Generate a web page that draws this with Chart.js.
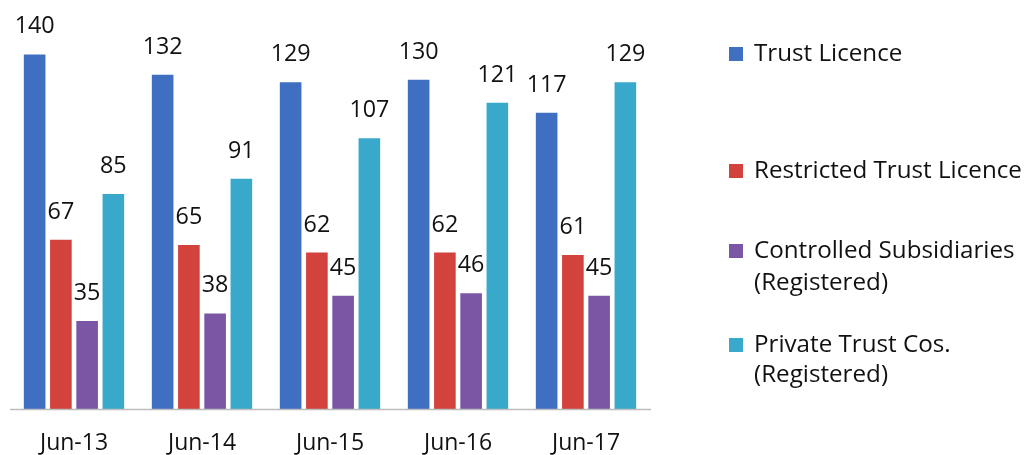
<!DOCTYPE html>
<html>
<head>
<meta charset="utf-8">
<script src="https://cdn.jsdelivr.net/npm/chart.js@4/dist/chart.umd.min.js"></script>
<style>
  html, body { margin: 0; padding: 0; background: #fff; }
  #wrap { width: 1026px; height: 455px; position: relative; }
</style>
</head>
<body>
<div id="wrap"><canvas id="trustChart" width="1026" height="455"></canvas></div>
<script>
var categories = ['Jun-13', 'Jun-14', 'Jun-15', 'Jun-16', 'Jun-17'];
var trustLicence = [140, 132, 129, 130, 117];
var restrictedTrust = [67, 65, 62, 62, 61];
var controlledSubs = [35, 38, 45, 46, 45];
var privateTrust = [85, 91, 107, 121, 129];
var seriesNames = [
    ['Trust Licence'],
    ['Restricted Trust Licence'],
    ['Controlled Subsidiaries', '(Registered)'],
    ['Private Trust Cos.', '(Registered)']
];
var seriesColors = ['#3F6FC1', '#D3423D', '#7B56A5', '#38A9CA'];

var FONT = '"Open Sans", Lato, sans-serif';

// pick a font size so a sample string has the width seen in the picture
function fitSize(ctx, text, width) {
    ctx.font = '20px ' + FONT;
    return 20 * width / ctx.measureText(text).width;
}

// labels above bars, category names, baseline, legend
var drawExtras = {
    id: 'drawExtras',
    afterDatasetsDraw: function(chart) {
        var ctx = chart.ctx;
        var xScale = chart.scales.x;
        var area = chart.chartArea;
        ctx.save();

        var valSize = fitSize(ctx, '140', 40);
        var catSize = fitSize(ctx, 'Jun-17', 68);
        var legSize = fitSize(ctx, 'Restricted Trust Licence', 268);

        // baseline
        ctx.strokeStyle = '#BDBDBD';
        ctx.lineWidth = 1.5;
        ctx.beginPath();
        ctx.moveTo(10, area.bottom + 0.5);
        ctx.lineTo(651, area.bottom + 0.5);
        ctx.stroke();

        // value labels
        ctx.fillStyle = '#111';
        ctx.font = valSize.toFixed(1) + 'px ' + FONT;
        ctx.textAlign = 'center';
        ctx.textBaseline = 'alphabetic';
        chart.data.datasets.forEach(function(ds, i) {
            var meta = chart.getDatasetMeta(i);
            meta.data.forEach(function(bar, j) {
                ctx.fillText(String(ds.data[j]), bar.x, bar.y - 20);
            });
        });

        // category labels
        ctx.font = catSize.toFixed(1) + 'px ' + FONT;
        categories.forEach(function(c, j) {
            ctx.fillText(c, xScale.getPixelForValue(j), 450);
        });

        // legend
        var baselines = [[61], [178], [258, 290], [352, 382]];
        ctx.textAlign = 'left';
        ctx.font = legSize.toFixed(1) + 'px ' + FONT;
        seriesNames.forEach(function(lines, i) {
            var b = baselines[i];
            ctx.fillStyle = seriesColors[i];
            ctx.fillRect(729, b[0] - 14, 14, 14);
            ctx.fillStyle = '#111';
            lines.forEach(function(t, k) {
                ctx.fillText(t, 754, b[k]);
            });
        });
        ctx.restore();
    }
};

function makeDataset(label, data, color) {
    return {
        label: label,
        data: data,
        backgroundColor: color,
        borderColor: 'rgba(255,255,255,0.55)',
        borderWidth: 1,
        categoryPercentage: 0.82,
        barPercentage: 0.9
    };
}

new Chart(document.getElementById('trustChart'), {
    type: 'bar',
    data: {
        labels: categories,
        datasets: [
            makeDataset(seriesNames[0].join(' '), trustLicence, seriesColors[0]),
            makeDataset(seriesNames[1].join(' '), restrictedTrust, seriesColors[1]),
            makeDataset(seriesNames[2].join(' '), controlledSubs, seriesColors[2]),
            makeDataset(seriesNames[3].join(' '), privateTrust, seriesColors[3])
        ]
    },
    options: {
        responsive: false,
        animation: false,
        layout: { padding: { left: 10, right: 376, top: 28, bottom: 46 } },
        plugins: {
            legend: { display: false },
            tooltip: { enabled: false }
        },
        scales: {
            x: { display: false, grid: { display: false } },
            y: { display: false, min: 0, max: 150, grid: { display: false } }
        }
    },
    plugins: [drawExtras]
});
</script>
</body>
</html>
